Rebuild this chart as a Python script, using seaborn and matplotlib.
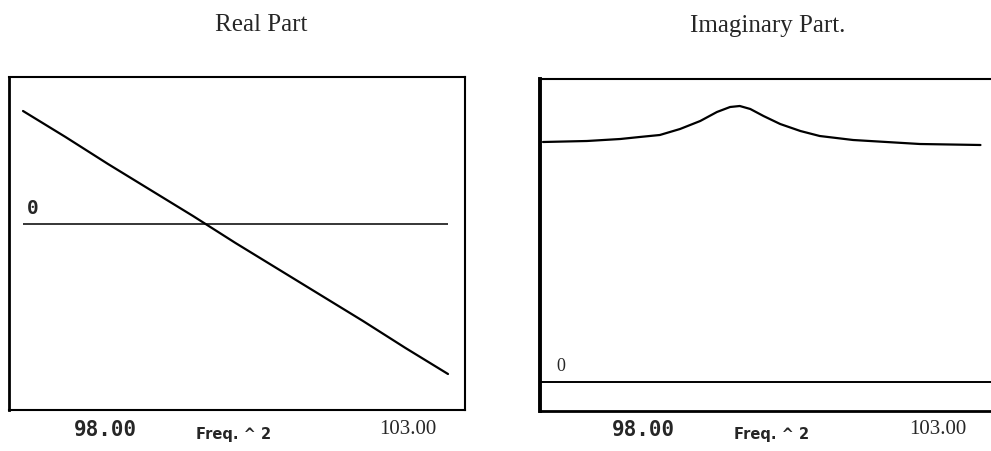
import numpy as np
import pandas as pd
import matplotlib
matplotlib.use("Agg")
import matplotlib.pyplot as plt
import seaborn as sns

sns.set_style("white")

# real part vs freq^2
freq_re = [98.0, 98.5, 99.0, 99.5, 100.0, 100.5, 101.0, 101.5, 102.0, 102.5, 103.0]
real_part = [1.13, 0.87, 0.60, 0.34, 0.08, -0.19, -0.45, -0.71, -0.97, -1.24, -1.50]

# imaginary part vs freq^2
freq_im = [98.00, 98.50, 98.88, 99.10, 99.33, 99.56, 99.79, 99.98, 100.13,
           100.24, 100.36, 100.51, 100.70, 100.93, 101.15, 101.53, 102.29, 102.98]
imag_part = [2.40, 2.41, 2.43, 2.45, 2.47, 2.53, 2.61, 2.70, 2.75,
             2.76, 2.73, 2.66, 2.58, 2.51, 2.46, 2.42, 2.38, 2.37]

x_labels = ["98.00", "103.00"]
x_title = "Freq. ^ 2"
titles = ["Real Part", "Imaginary Part."]

W, H = 991, 452
fig = plt.figure(figsize=(W / 100, H / 100), dpi=100)


def fx(px):
    return px / W


def fy(py):
    return 1 - py / H


ax1 = fig.add_axes([fx(9), fy(411), fx(465 - 9), (411 - 78) / H])
ax2 = fig.add_axes([fx(540), fy(412), 1 - fx(540), (412 - 80) / H])

df_re = pd.DataFrame({"freq": freq_re, "val": real_part})
df_im = pd.DataFrame({"freq": freq_im, "val": imag_part})

sns.lineplot(data=df_re, x="freq", y="val", ax=ax1, color="black", linewidth=1.6)
ax1.hlines(0, freq_re[0], freq_re[-1], color="black", linewidth=1.1)
ax1.set_xlim(97.835, 103.2)
ax1.set_ylim(-1.86, 1.47)

sns.lineplot(data=df_im, x="freq", y="val", ax=ax2, color="black", linewidth=1.6)
ax2.axhline(0, color="black", linewidth=1.4)
ax2.set_xlim(97.966, 103.10)
ax2.set_ylim(-0.29, 3.03)

for ax in (ax1, ax2):
    ax.set_xticks([])
    ax.set_yticks([])
    ax.set_xlabel("")
    ax.set_ylabel("")
    for s in ax.spines.values():
        s.set_color("black")
        s.set_linewidth(1.5)

ax1.spines["left"].set_linewidth(2.0)
ax2.spines["left"].set_linewidth(2.8)
ax2.spines["bottom"].set_linewidth(2.0)
ax2.spines["right"].set_visible(False)

# zero labels
ax1.text(98.05, 0.07, "0", fontsize=14, family="DejaVu Sans Mono",
         fontweight="bold", ha="left", va="bottom")
ax2.text(98.15, 0.08, "0", fontsize=13, family="Liberation Serif",
         ha="left", va="bottom")

# titles
fig.text(fx(261), fy(25), titles[0], fontsize=18, family="Liberation Serif",
         ha="center", va="center")
fig.text(fx(768), fy(26), titles[1], fontsize=18, family="Liberation Serif",
         ha="center", va="center")

# axis labels under each panel
for c98, cf, c103 in [(105, 234, 408), (643, 772, 938)]:
    fig.text(fx(c98), fy(430), x_labels[0], fontsize=15, family="DejaVu Sans Mono",
             fontweight="bold", ha="center", va="center")
    fig.text(fx(cf), fy(435), x_title, fontsize=10.5, family="DejaVu Sans",
             fontweight="bold", ha="center", va="center")
    fig.text(fx(c103), fy(430), x_labels[1], fontsize=15, family="Liberation Serif",
             ha="center", va="center")

fig.savefig("out.png", dpi=100)
